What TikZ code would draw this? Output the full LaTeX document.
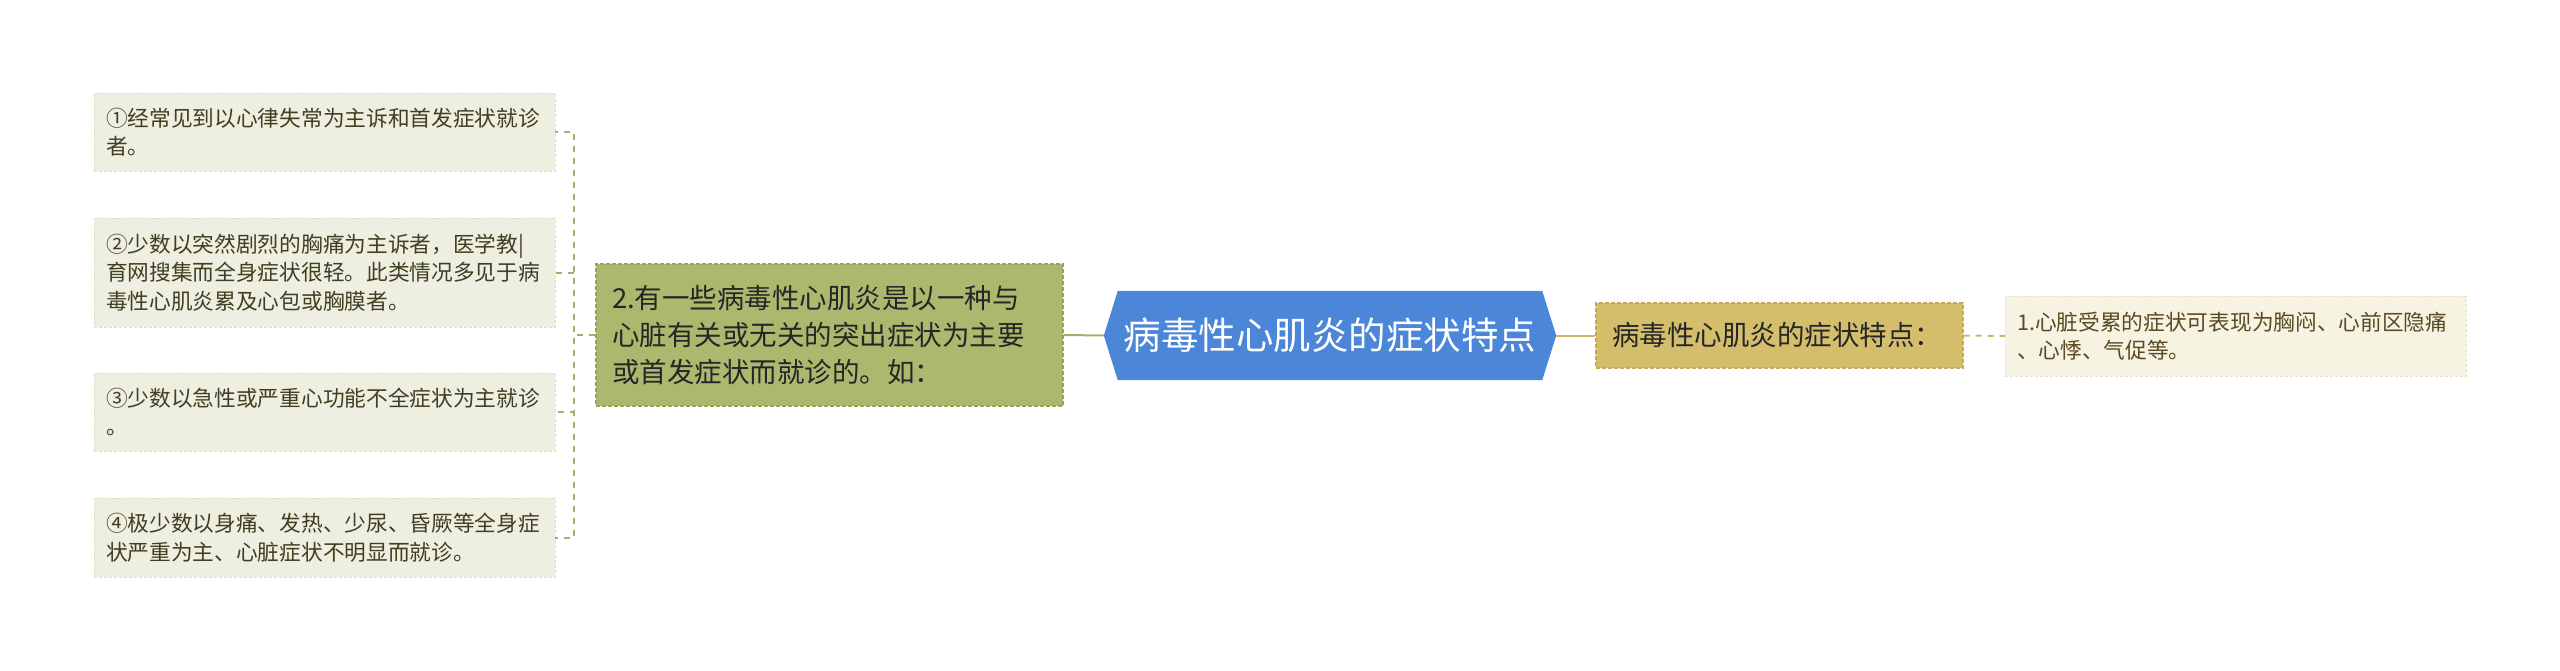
\documentclass[tikz,border=0pt]{standalone}
\usepackage{fontspec}
\setmainfont{Noto Sans CJK SC}
\usetikzlibrary{backgrounds}
\definecolor{fondcas}{HTML}{EFEFE1}
\definecolor{bordcas}{HTML}{DFDFC8}
\definecolor{textecas}{HTML}{3F3F22}
\definecolor{fondcasr}{HTML}{F7F3E2}
\definecolor{bordcasr}{HTML}{EAE2C6}
\definecolor{textecasr}{HTML}{5A4A22}
\definecolor{fondbr}{HTML}{AEB76E}
\definecolor{bordbr}{HTML}{98A25A}
\definecolor{fondor}{HTML}{D4BE6C}
\definecolor{bordor}{HTML}{C2AA58}
\definecolor{fondsujet}{HTML}{4C86D9}
\definecolor{lienv}{HTML}{A8AD6B}
\definecolor{lieno}{HTML}{CDB56A}

\begin{document}
\begin{tikzpicture}[x=1pt, y=-1pt]
\tikzset{cas/.style={fill=fondcas, draw=bordcas, dash pattern=on 3pt off 2pt, text=textecas, inner sep=0pt, minimum width=461pt, text width=437pt, align=left, font=\fontsize{21.7}{28.5}\selectfont},
casr/.style={cas, fill=fondcasr, draw=bordcasr, text=textecasr},
branche/.style={fill=fondbr, draw=bordbr, line width=1.2pt, dash pattern=on 4pt off 2pt, text=black!85, inner sep=0pt, minimum width=467pt, minimum height=142pt, text width=435pt, align=left, font=\fontsize{27.5}{37}\selectfont},
sujet/.style={text=white, inner sep=0pt, minimum width=452pt, minimum height=89pt, font=\fontsize{37.5}{44}\selectfont},
lien/.style={line width=2pt, draw=lienv}}
\useasboundingbox (0,0) rectangle (2560,671);
% gauche
\node[cas, minimum height=78pt] (c1) at (324.5,132) {①经常见到以心律失常为主诉和首发症状就诊\\者。};
\node[cas, minimum height=109pt] (c2) at (324.5,272.5) {②少数以突然剧烈的胸痛为主诉者，医学教|\\育网搜集而全身症状很轻。此类情况多见于病\\毒性心肌炎累及心包或胸膜者。};
\node[cas, minimum height=78pt] (c3) at (324.5,412) {③少数以急性或严重心功能不全症状为主就诊\\。};
\node[cas, minimum height=79pt] (c4) at (324.5,537.5) {④极少数以身痛、发热、少尿、昏厥等全身症\\状严重为主、心脏症状不明显而就诊。};
\node[branche] (b) at (829.5,335) {2.有一些病毒性心肌炎是以一种与\\心脏有关或无关的突出症状为主要\\或首发症状而就诊的。如：};
% centre
\node[sujet] (t) at (1330,335.5) {病毒性心肌炎的症状特点};
\begin{scope}[on background layer]
\fill[fondsujet] (t.west) -- ([xshift=14pt]t.north west) -- ([xshift=-14pt]t.north east) -- (t.east) -- ([xshift=-14pt]t.south east) -- ([xshift=14pt]t.south west) -- cycle;
\end{scope}
% droite
\node[branche, fill=fondor, draw=bordor, minimum width=367pt, minimum height=65pt, text width=335pt] (s) at (1779.5,335.5) {病毒性心肌炎的症状特点：};
\node[casr, minimum height=80pt] (r) at (2235.5,336) {1.心脏受累的症状可表现为胸闷、心前区隐痛\\、心悸、气促等。};
\foreach \n in {c1,c2,c3,c4}
  \draw[lien, dash pattern=on 6pt off 6pt] (b.west) -- ++(-21,0) |- (\n.east);
\draw[lien] (b.east) -- (t.west);
\draw[lien, draw=lieno] (t.east) -- (s.west);
\draw[lien, draw=lieno, dash pattern=on 6pt off 6pt] (s.east) -- (r.west);
\end{tikzpicture}
\end{document}
